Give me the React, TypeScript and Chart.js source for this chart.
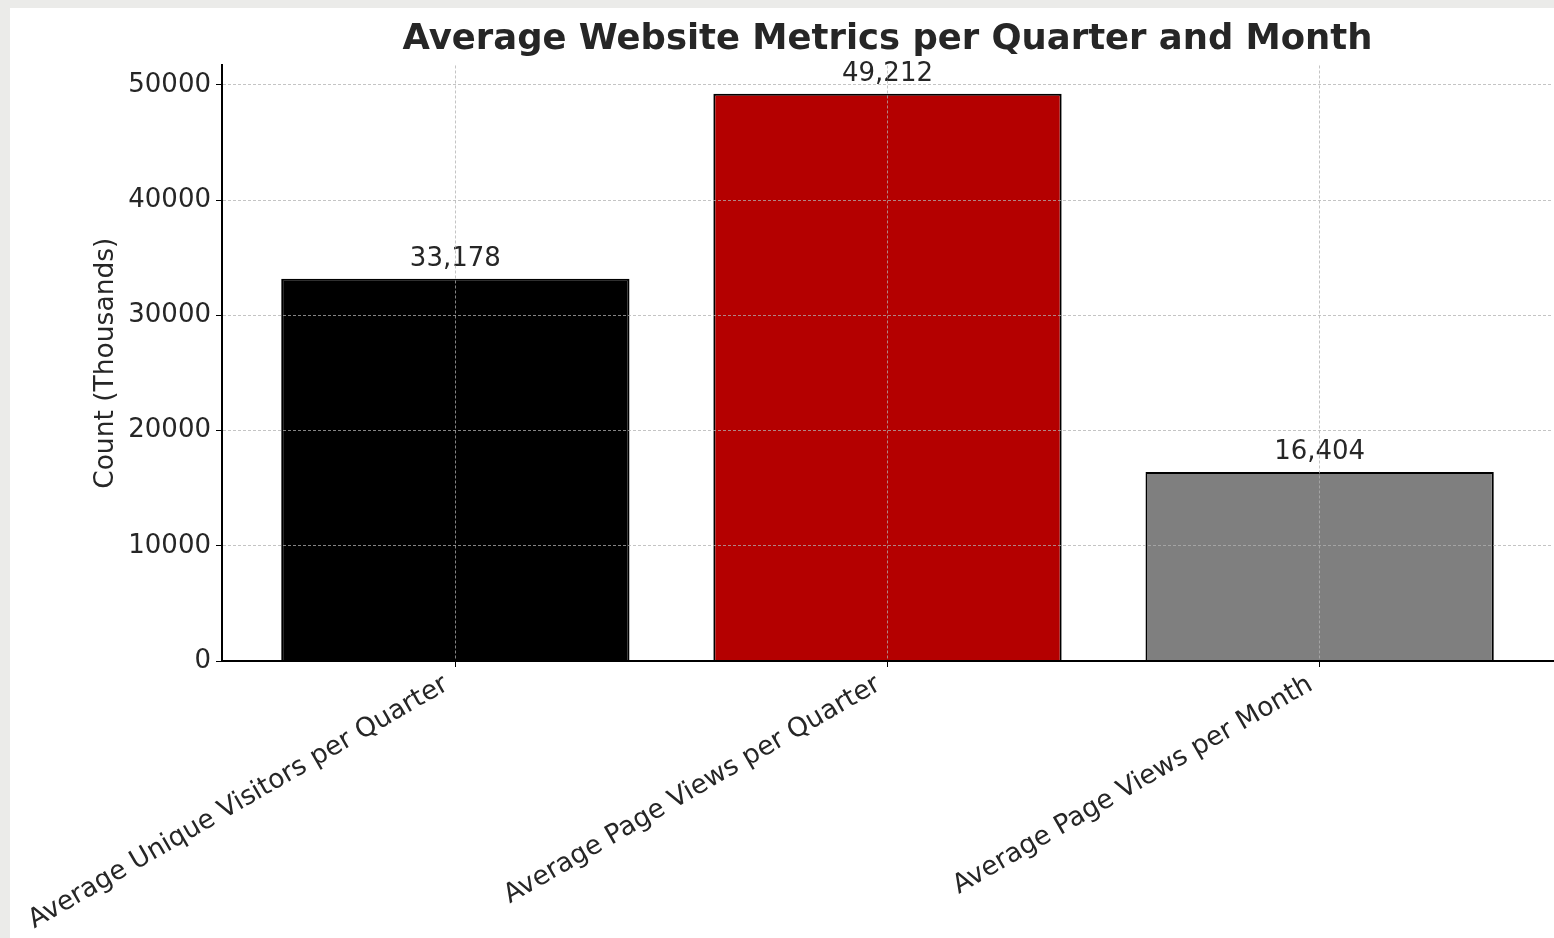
import React, { useEffect, useRef } from "react";
import { Chart, registerables } from "chart.js";

Chart.register(...registerables);

const categories = [
  "Average Unique Visitors per Quarter",
  "Average Page Views per Quarter",
  "Average Page Views per Month",
];
const values = [33178, 49212, 16404];
const barColors = ["#000000", "#b40000", "#7f7f7f"];
const yTicks = [0, 10000, 20000, 30000, 40000, 50000];

const FONT = "'DejaVu Sans', sans-serif";
const TEXT = "#262626";

const valueLabels = {
  id: "valueLabels",
  afterDatasetsDraw(chart: any) {
    const ctx = chart.ctx;
    const meta = chart.getDatasetMeta(0);
    ctx.save();
    ctx.font = `26px ${FONT}`;
    ctx.fillStyle = TEXT;
    ctx.textAlign = "center";
    ctx.textBaseline = "alphabetic";
    meta.data.forEach((bar: any, i: number) => {
      ctx.fillText(values[i].toLocaleString("en-US"), bar.x, bar.y - 13);
    });
    ctx.restore();
  },
};

export default function App() {
  const ref = useRef<HTMLCanvasElement>(null);
  useEffect(() => {
    const gridOpts = {
      z: 1,
      offset: false,
      color: "rgba(176,176,176,0.75)",
      lineWidth: 1,
      tickColor: "#000000",
      tickLength: 6,
      tickBorderDash: [],
    };
    const chart = new Chart(ref.current!, {
      type: "bar",
      data: {
        datasets: [
          {
            data: values.map((v, i) => ({ x: i, y: v })),
            backgroundColor: barColors,
            borderColor: "#000000",
            borderWidth: 2,
            barPercentage: 0.806,
            categoryPercentage: 1.0,
          },
        ],
      },
      options: {
        animation: false,
        responsive: false,
        devicePixelRatio: 1,
        layout: { padding: { left: 0, right: 1, top: 0, bottom: 0 } },
        plugins: {
          legend: { display: false },
          tooltip: { enabled: false },
          title: {
            display: true,
            text: "Average Website Metrics per Quarter and Month",
            fullSize: false,
            color: TEXT,
            font: { family: FONT, size: 35.4, weight: "bold" },
            padding: { top: 11, bottom: 4 },
          },
        },
        scales: {
          x: {
            type: "linear",
            offset: false,
            min: -0.54,
            max: 2.54,
            afterBuildTicks: (scale: any) => {
              scale.ticks = categories.map((_, i) => ({ value: i }));
            },
            afterFit: (scale: any) => {
              scale.height = 277;
              scale.paddingLeft = 0;
              scale.paddingRight = 0;
            },
            ticks: {
              autoSkip: false,
              minRotation: 30,
              maxRotation: 30,
              color: TEXT,
              font: { family: FONT, size: 26.5 },
              padding: 2,
              labelOffset: -9,
              callback: (v: any) => categories[v as number] ?? "",
            },
            grid: gridOpts,
            border: { display: true, z: 2, color: "#000000", width: 2, dash: [3, 2] },
          },
          y: {
            min: 0,
            max: 51672.6,
            afterBuildTicks: (scale: any) => {
              scale.ticks = yTicks.map((v) => ({ value: v }));
            },
            afterFit: (scale: any) => {
              scale.width = 212;
              scale.paddingTop = 0;
              scale.paddingBottom = 0;
            },
            ticks: {
              color: TEXT,
              font: { family: FONT, size: 26 },
              padding: 5,
              callback: (v: any) => String(v),
            },
            title: {
              display: true,
              text: "Count (Thousands)",
              color: TEXT,
              font: { family: FONT, size: 26.5 },
              padding: { top: 80, bottom: 0 },
            },
            grid: gridOpts,
            border: { display: true, z: 2, color: "#000000", width: 2, dash: [3, 2] },
          },
        },
      },
      plugins: [valueLabels],
    });
    return () => chart.destroy();
  }, []);

  return (
    <div
      style={{
        position: "fixed",
        left: 0,
        top: 0,
        width: 1554,
        height: 938,
        background: "#ebebe9",
        overflow: "hidden",
      }}
    >
      <div
        style={{
          position: "absolute",
          left: 10,
          top: 8,
          width: 1544,
          height: 930,
          background: "#ffffff",
        }}
      >
        <canvas ref={ref} width={1544} height={930} style={{ display: "block" }} />
      </div>
    </div>
  );
}
